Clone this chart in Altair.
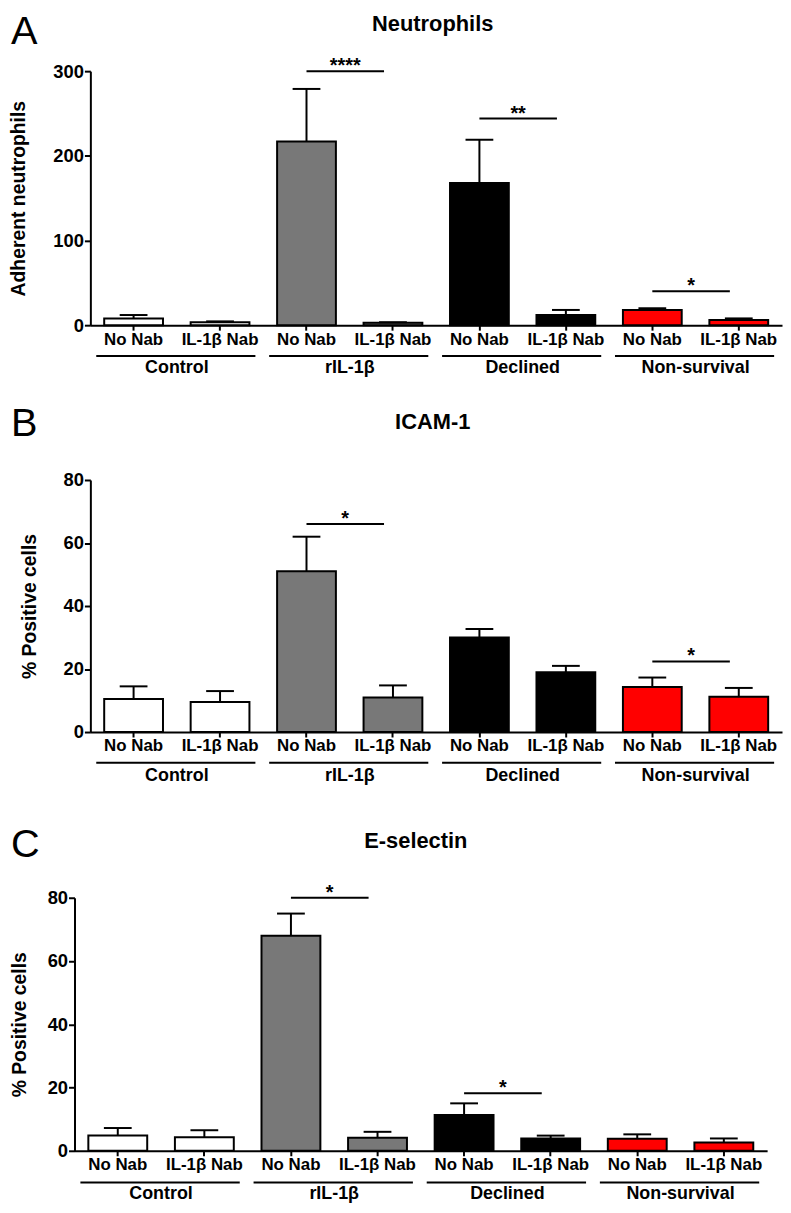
import altair as alt
import pandas as pd

# ---- data ----
groups = ["Control", "rIL-1β", "Declined", "Non-survival"]
treatments = ["No Nab", "IL-1β Nab"]
fills = ["#ffffff", "#787878", "#000000", "#ff0000"]

neut_mean = [8, 3.5, 217, 3, 168, 12, 18, 6]
neut_sem = [4, 1, 62, 0.5, 51, 6, 2, 2]
neut_sig_groups = ["rIL-1β", "Declined", "Non-survival"]
neut_sig_y = [300, 244, 40]
neut_sig_txt = ["****", "**", "*"]

icam_mean = [10.5, 9.5, 51, 11, 30, 19, 14.3, 11.2]
icam_sem = [4, 3.5, 11, 3.8, 2.7, 2, 3, 2.8]
icam_sig_groups = ["rIL-1β", "Non-survival"]
icam_sig_y = [66, 22.4]
icam_sig_txt = ["*", "*"]

esel_mean = [4.8, 4.3, 68, 4.1, 11.3, 3.9, 3.8, 2.6]
esel_sem = [2.4, 2.2, 7, 1.9, 3.7, 0.9, 1.4, 1.3]
esel_sig_groups = ["rIL-1β", "Declined"]
esel_sig_y = [80, 18.2]
esel_sig_txt = ["*", "*"]

ticks_neut = [0, 100, 200, 300]
ticks_pct = [0, 20, 40, 60, 80]

cats = [f"{g}|{t}" for g in groups for t in treatments]


def panel(mean, sem, sig_groups, sig_y, sig_txt, ymax, yticks, ytitle, title, letter,
          plot_h, top_pad, width, xoff, tpad, title_x, letter_y, title_y, gline_dy, glabel_dy):
    grp = [g for g in groups for _ in treatments]
    df = pd.DataFrame({"cat": cats, "group": grp, "mean": mean,
                       "top": [m + s for m, s in zip(mean, sem)]})
    sig_df = pd.DataFrame({"c1": [f"{g}|{treatments[0]}" for g in sig_groups],
                           "c2": [f"{g}|{treatments[1]}" for g in sig_groups],
                           "yv": sig_y, "stars": sig_txt})
    grp_df = pd.DataFrame({"c1": [f"{g}|{treatments[0]}" for g in groups],
                           "c2": [f"{g}|{treatments[1]}" for g in groups],
                           "group": groups})
    height = plot_h + top_pad

    xscale = alt.Scale(domain=cats, range=[-xoff, width], paddingInner=0.32, paddingOuter=0.16)
    xaxis = alt.Axis(title=None, labelExpr="split(datum.label, '|')[1]", labelAngle=0,
                     labelOverlap=False, tickSize=5, tickWidth=2, tickColor="black",
                     domainWidth=2, domainColor="black", labelPadding=1, labelFontSize=17,
                     labelFontWeight="bold", labelColor="black")
    yscale = alt.Scale(domain=[0, ymax], range=[height, top_pad], nice=False, zero=True)
    yaxis = alt.Axis(title=ytitle, values=yticks, offset=xoff, tickSize=6, tickWidth=2,
                     tickColor="black", domainWidth=2, domainColor="black", labelPadding=1,
                     labelFontSize=18.5, labelFontWeight="bold", labelColor="black",
                     titleFontSize=19.5, titleFontWeight="bold", titleColor="black",
                     titlePadding=tpad, grid=False)

    def X(f, **kw):
        return alt.X(f"{f}:N", sort=cats, scale=xscale, axis=xaxis, **kw)

    def Y(f):
        return alt.Y(f"{f}:Q", scale=yscale, axis=yaxis)

    bars = alt.Chart(df).mark_bar(stroke="black", strokeWidth=2, opacity=1).encode(
        x=X("cat"), y=Y("mean"),
        color=alt.Color("group:N", scale=alt.Scale(domain=groups, range=fills), legend=None))
    err = alt.Chart(df).mark_rule(color="black", strokeWidth=2, opacity=1).encode(
        x=X("cat"), y=Y("mean"), y2=alt.Y2("top:Q"))
    caps = alt.Chart(df).mark_tick(color="black", thickness=2, size=28, opacity=1).encode(
        x=X("cat"), y=Y("top"))
    sig = alt.Chart(sig_df).mark_rule(color="black", strokeWidth=2, x2Offset=-9).encode(
        x=X("c1", bandPosition=0.5), x2=alt.X2("c2:N", bandPosition=0.5), y=Y("yv"))
    stars = alt.Chart(sig_df).mark_text(fontSize=20, fontWeight="bold", baseline="alphabetic",
                                        align="center", dx=39, dy=1, color="black").encode(
        x=X("c1"), y=Y("yv"), text="stars:N")
    gline = alt.Chart(grp_df).mark_rule(color="black", strokeWidth=2, xOffset=-8, x2Offset=6).encode(
        x=X("c1", bandPosition=0), x2=alt.X2("c2:N", bandPosition=1), y=alt.value(height + gline_dy))
    gtext = alt.Chart(grp_df).mark_text(fontSize=18, fontWeight="bold", baseline="alphabetic",
                                        align="center", dx=43.6, color="black").encode(
        x=X("c1"), y=alt.value(height + glabel_dy), text="group:N")
    ttl = alt.Chart(pd.DataFrame({"t": [title]})).mark_text(
        fontSize=22, fontWeight="bold", baseline="alphabetic", align="center", color="black").encode(
        x=alt.value(title_x), y=alt.value(title_y), text="t:N")
    let = alt.Chart(pd.DataFrame({"t": [letter]})).mark_text(
        fontSize=40, fontWeight="normal", baseline="alphabetic", align="left", color="black").encode(
        x=alt.value(-80), y=alt.value(letter_y), text="t:N")

    return alt.layer(bars, err, caps, sig, stars, gline, gtext, ttl, let).properties(
        width=width, height=height)


pA = panel(neut_mean, neut_sem, neut_sig_groups, neut_sig_y, neut_sig_txt, 300, ticks_neut,
           "Adherent neutrophils", "Neutrophils", "A", 256, 0, 697, 0, 25, 345, -27, -40, 31, 48)
pB = panel(icam_mean, icam_sem, icam_sig_groups, icam_sig_y, icam_sig_txt, 80, ticks_pct,
           "% Positive cells", "ICAM-1", "B", 254, 0, 697, 0, 24, 345, -44, -51, 31, 49)
pC = panel(esel_mean, esel_sem, esel_sig_groups, esel_sig_y, esel_sig_txt, 80, ticks_pct,
           "% Positive cells", "E-selectin", "C", 255, 11, 682, 16, 18, 328, -30, -39, 32, 49)

chart = alt.vconcat(pA, pB, pC, spacing=156, bounds="flush").properties(
    padding={"left": 0, "top": 0, "right": 0, "bottom": 0}
).configure(font="Liberation Sans").configure_view(stroke=None)

chart.save("out.html", embed_options={"renderer": "svg", "actions": False})
